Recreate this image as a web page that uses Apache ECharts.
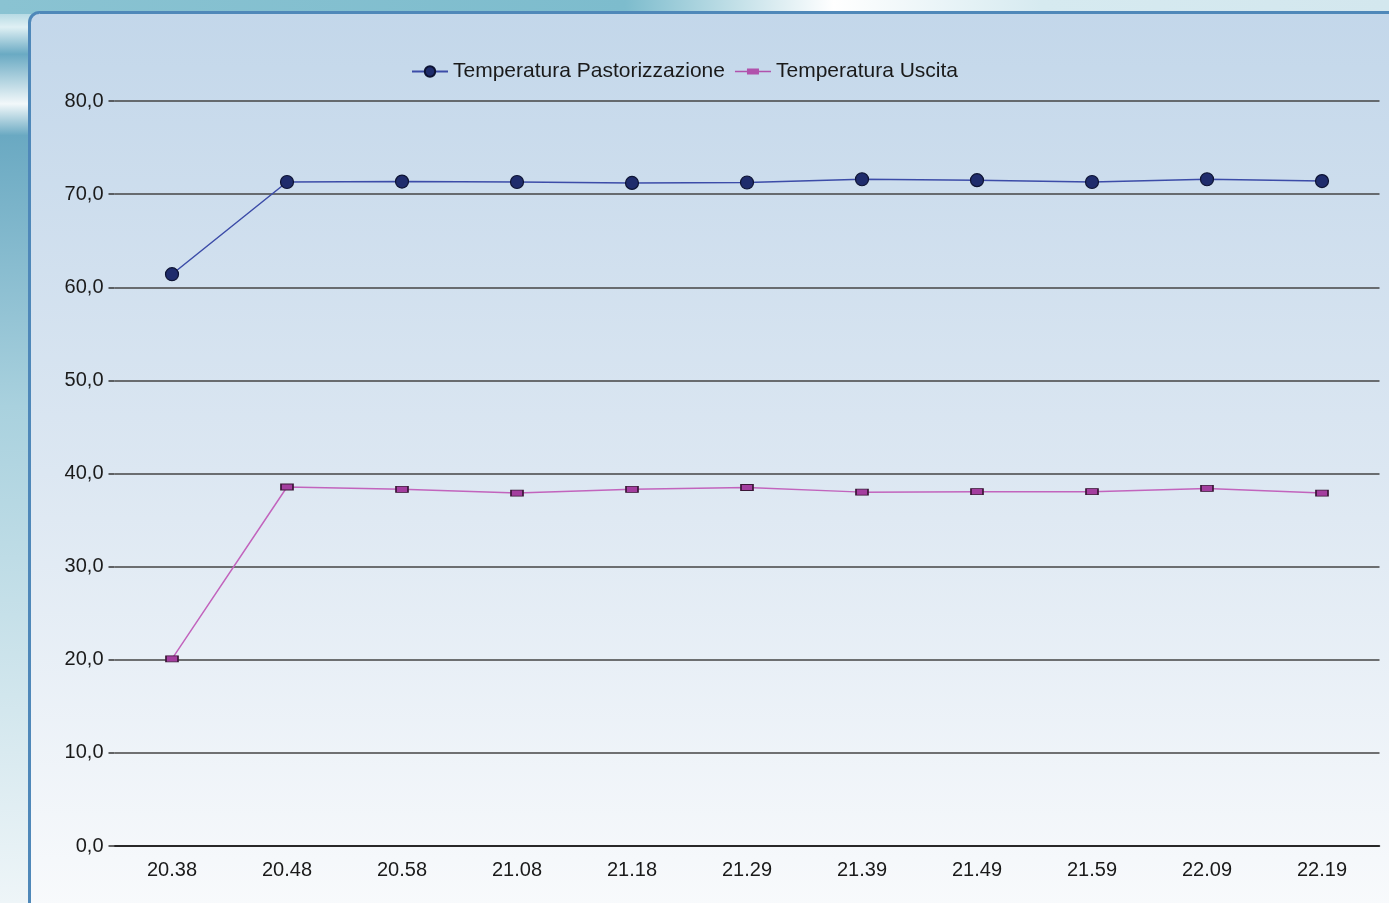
<!DOCTYPE html>
<html>
<head>
<meta charset="utf-8">
<script src="https://cdn.jsdelivr.net/npm/echarts@6/dist/echarts.min.js"></script>
<style>
html,body{margin:0;padding:0;width:1389px;height:903px;overflow:hidden;background:#ffffff;}
#chart{width:1389px;height:903px;}
</style>
</head>
<body>
<div id="chart"></div>
<script>
const categories = ['20.38','20.48','20.58','21.08','21.18','21.29','21.39','21.49','21.59','22.09','22.19'];
const pastorizzazione = [61.4, 71.3, 71.35, 71.3, 71.2, 71.25, 71.6, 71.5, 71.3, 71.6, 71.4];
const uscita = [20.1, 38.55, 38.3, 37.9, 38.3, 38.5, 38.0, 38.05, 38.05, 38.4, 37.9];
const seriesNames = ['Temperatura Pastorizzazione', 'Temperatura Uscita'];
const yTicks = {min: 0, max: 80, interval: 10};

const chart = echarts.init(document.getElementById('chart'));
const font = 'Liberation Sans, Arial, sans-serif';
chart.setOption({
  backgroundColor: 'transparent',
  animation: false,
  graphic: [
    {type: 'rect', z: -20, silent: true, shape: {x: 0, y: 0, width: 1389, height: 903},
     style: {fill: new echarts.graphic.LinearGradient(0, 0, 0, 1, [
       {offset: 0, color: '#8cc4d3'}, {offset: 0.03, color: '#dff0f4'}, {offset: 0.06, color: '#6aaac3'},
       {offset: 0.115, color: '#f2f8fa'}, {offset: 0.15, color: '#6aa9c2'}, {offset: 0.45, color: '#a9d1de'},
       {offset: 1, color: '#eef5f8'}])}},
    {type: 'rect', z: -19, silent: true, shape: {x: 0, y: 0, width: 1389, height: 14},
     style: {fill: new echarts.graphic.LinearGradient(0, 0, 1, 0, [
       {offset: 0, color: '#8ac3d2'}, {offset: 0.45, color: '#7dbccd'}, {offset: 0.6, color: '#ffffff'},
       {offset: 0.75, color: '#d6eaf0'}, {offset: 1, color: '#d3e7ee'}])}},
    {type: 'rect', z: -18, silent: true, shape: {x: 29.5, y: 12.5, width: 1400, height: 920, r: 10},
     style: {fill: new echarts.graphic.LinearGradient(0, 0, 0, 1, [
       {offset: 0, color: '#c3d7ea'}, {offset: 0.5, color: '#dce7f2'}, {offset: 0.97, color: '#f8fafc'}]),
       stroke: '#4f88b9', lineWidth: 3}}
  ],
  legend: {
    top: 56,
    left: 406,
    itemWidth: 36,
    itemHeight: 13,
    itemGap: 10,
    textStyle: {fontFamily: font, fontSize: 21, color: '#1a1a1a'},
    data: [
      {name: seriesNames[0]},
      {name: seriesNames[1],
       icon: 'path://M0,5.8 L12,5.8 L12,3.5 L24,3.5 L24,5.8 L36,5.8 L36,7.2 L24,7.2 L24,9.5 L12,9.5 L12,7.2 L0,7.2 Z',
       itemStyle: {color: '#b152ac', borderWidth: 0}}
    ]
  },
  grid: {left: 114.5, right: 9.5, top: 101, bottom: 57},
  xAxis: {
    type: 'category',
    data: categories,
    boundaryGap: true,
    axisLine: {lineStyle: {color: '#111', width: 1.5}},
    axisTick: {show: false},
    axisLabel: {fontFamily: font, fontSize: 20, color: '#1a1a1a', margin: 14}
  },
  yAxis: {
    type: 'value',
    min: yTicks.min, max: yTicks.max, interval: yTicks.interval,
    axisLine: {show: false},
    axisTick: {show: true, length: 6, lineStyle: {color: '#333', width: 1.5}},
    axisLabel: {fontFamily: font, fontSize: 20, color: '#1a1a1a', margin: 11,
      formatter: v => v.toFixed(1).replace('.', ',')},
    splitLine: {lineStyle: {color: '#444', width: 1.7}}
  },
  series: [
    {
      name: seriesNames[0], type: 'line', data: pastorizzazione,
      symbol: 'circle', symbolSize: 13,
      lineStyle: {color: '#3c4ca8', width: 1.5},
      itemStyle: {color: '#1f2c6c', borderColor: '#0d1333', borderWidth: 1.2}
    },
    {
      name: seriesNames[1], type: 'line', data: uscita,
      symbol: 'rect', symbolSize: [12, 6],
      lineStyle: {color: '#c264bd', width: 1.5},
      itemStyle: {color: '#a43e9f', borderColor: '#3a1636', borderWidth: 1.2}
    }
  ]
});
</script>
</body>
</html>
